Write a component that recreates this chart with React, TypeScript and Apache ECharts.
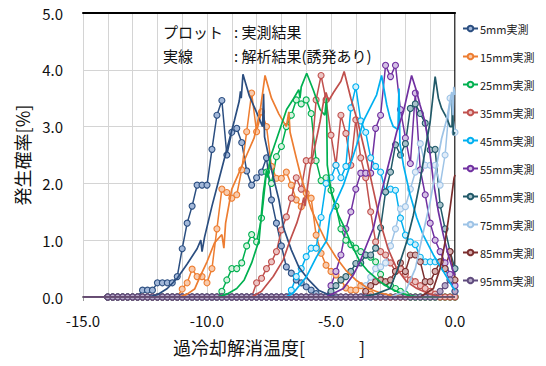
import React, { useEffect, useRef } from "react";
import * as echarts from "echarts";

const temps = [
  -14.0, -13.8, -13.6, -13.4, -13.2, -13.0, -12.8, -12.6, -12.4, -12.2,
  -12.0, -11.8, -11.6, -11.4, -11.2, -11.0, -10.8, -10.6, -10.4, -10.2,
  -10.0, -9.8, -9.6, -9.4, -9.2, -9.0, -8.8, -8.6, -8.4, -8.2,
  -8.0, -7.8, -7.6, -7.4, -7.2, -7.0, -6.8, -6.6, -6.4, -6.2,
  -6.0, -5.8, -5.6, -5.4, -5.2, -5.0, -4.8, -4.6, -4.4, -4.2,
  -4.0, -3.8, -3.6, -3.4, -3.2, -3.0, -2.8, -2.6, -2.4, -2.2,
  -2.0, -1.8, -1.6, -1.4, -1.2, -1.0, -0.8, -0.6, -0.4, -0.2,
  0.0,
];

const seriesNames = ["5mm実測", "15mm実測", "25mm実測", "35mm実測", "45mm実測", "55mm実測", "65mm実測", "75mm実測", "85mm実測", "95mm実測"];

const m5 = [
  0, 0, 0, 0, 0, 0, 0, 0.12, 0.12, 0.12,
  0.25, 0.25, 0.25, 0.25, 0.36, 0.85, 1.3, 1.6, 1.97, 1.97,
  1.97, 2.6, 3.2, 3.46, 2.5, 2.9, 2.97, 2.72, 2.22, 1.97,
  2.1, 2.2, 2.45, 1.71, 1.3, 0.9, 0.53, 0.42, 0.3, 0.25,
  0.18, 0.12, 0.06, 0, 0, 0, 0, 0, 0, 0,
  0, 0, 0, 0, 0, 0, 0, 0, 0, 0,
  0, 0, 0, 0, 0, 0, 0, 0, 0, 0,
  0,
];
const m15 = [
  0, 0, 0, 0, 0, 0, 0, 0, 0, 0,
  0, 0, 0, 0, 0, 0.14, 0.25, 0.49, 0.36, 0.36,
  0.25, 0.5, 1.2, 1.9, 1.84, 1.74, 1.8, 2.24, 2.91, 3.59,
  2.91, 3.26, 3.0, 2.3, 2.09, 2.09, 2.2, 1.97, 1.71, 1.59,
  1.83, 1.74, 1.09, 0.77, 0.56, 0.45, 0.39, 0.3, 0.16, 0.12,
  0.12, 0.2, 0.1, 0.05, 0, 0, 0, 0, 0, 0,
  0, 0, 0, 0, 0, 0, 0, 0, 0, 0,
  0,
];
const m25 = [
  0, 0, 0, 0, 0, 0, 0, 0, 0, 0,
  0, 0, 0, 0, 0, 0, 0, 0, 0, 0,
  0, 0, 0, 0.1, 0.3, 0.5, 0.5, 0.6, 0.9, 1.1,
  0.97, 1.39, 2.2, 2.0, 2.47, 2.65, 3.0, 3.2, 3.47, 3.4,
  3.47, 3.23, 2.4, 2.05, 2.1, 1.88, 1.6, 1.2, 1.0, 0.92,
  0.86, 0.8, 0.74, 0.7, 0.62, 0.4, 0.25, 0.2, 0.15, 0.1,
  0.05, 0, 0, 0, 0, 0, 0, 0, 0, 0,
  0,
];
const m35 = [
  0, 0, 0, 0, 0, 0, 0, 0, 0, 0,
  0, 0, 0, 0, 0, 0, 0, 0, 0, 0,
  0, 0, 0, 0, 0, 0, 0, 0, 0, 0,
  0.25, 0.33, 0.5, 0.62, 0.8, 1.18, 1.41, 1.74, 2.1, 1.9,
  2.4, 2.4, 3.47, 3.9, 3.47, 2.85, 2.32, 3.2, 2.88, 2.32,
  3.12, 2.45, 2.1, 1.5, 0.97, 0.8, 0.74, 0.6, 0.45, 0.5,
  0.4, 0.3, 0.27, 0.2, 0.15, 0.1, 0.05, 0, 0, 0,
  0,
];
const m45 = [
  0, 0, 0, 0, 0, 0, 0, 0, 0, 0,
  0, 0, 0, 0, 0, 0, 0, 0, 0, 0,
  0, 0, 0, 0, 0, 0, 0, 0, 0, 0,
  0, 0, 0, 0, 0, 0, 0, 0.12, 0.36, 0.5,
  0.71, 0.86, 0.86, 1.4, 2.0, 2.1, 2.32, 2.1, 2.3, 3.33,
  3.7, 3.1, 2.9, 2.45, 2.3, 2.2, 1.85, 1.9, 1.88, 1.39,
  1.09, 0.97, 0.92, 0.7, 0.62, 0.62, 0.62, 0.62, 0.5, 0.3,
  0.1,
];
const m55 = [
  0, 0, 0, 0, 0, 0, 0, 0, 0, 0,
  0, 0, 0, 0, 0, 0, 0, 0, 0, 0,
  0, 0, 0, 0, 0, 0, 0, 0, 0, 0,
  0, 0, 0, 0, 0, 0, 0, 0, 0, 0,
  0, 0, 0, 0, 0, 0.2, 0.45, 0.74, 1.2, 1.5,
  1.9, 2.18, 2.18, 2.18, 2.97, 3.2, 4.08, 3.88, 4.08, 3.3,
  2.8, 2.35, 3.59, 2.24, 1.8, 1.3, 1.0, 0.8, 0.6, 0.4,
  0.2,
];
const m65 = [
  0, 0, 0, 0, 0, 0, 0, 0, 0, 0,
  0, 0, 0, 0, 0, 0, 0, 0, 0, 0,
  0, 0, 0, 0, 0, 0, 0, 0, 0, 0,
  0, 0, 0, 0, 0, 0, 0, 0, 0, 0,
  0, 0, 0, 0, 0, 0.1, 0.2, 0.3, 0.36, 0.45,
  0.59, 0.6, 0.74, 0.74, 0.86, 1.22, 1.85, 2.2, 2.68, 2.5,
  2.7, 3.32, 3.4, 3.23, 3.06, 2.59, 2.6, 1.62, 1.2, 0.8,
  0.5,
];
const m75 = [
  0, 0, 0, 0, 0, 0, 0, 0, 0, 0,
  0, 0, 0, 0, 0, 0, 0, 0, 0, 0,
  0, 0, 0, 0, 0, 0, 0, 0, 0, 0,
  0, 0, 0, 0, 0, 0, 0, 0, 0, 0,
  0, 0, 0, 0, 0, 0, 0, 0, 0, 0,
  0, 0, 0.2, 0.35, 0.5, 0.53, 0.6, 0.9, 1.2, 1.55,
  1.59, 1.9, 2.2, 2.7, 2.32, 2.32, 2.32, 1.97, 2.5, 3.5,
  2.9,
];
const m85 = [
  0, 0, 0, 0, 0, 0, 0, 0, 0, 0,
  0, 0, 0, 0, 0, 0, 0, 0, 0, 0,
  0, 0, 0, 0, 0, 0, 0, 0, 0, 0,
  0, 0, 0, 0, 0, 0, 0, 0, 0, 0,
  0, 0, 0, 0, 0, 0, 0, 0, 0, 0,
  0, 0, 0.1, 0.2, 0.27, 0.3, 0.27, 0.3, 0.45, 0.6,
  0.45, 0.74, 0.74, 0.62, 0.27, 0.27, 0.45, 0.62, 0.5, 0.8,
  0.3,
];
const m95 = [
  0, 0, 0, 0, 0, 0, 0, 0, 0, 0,
  0, 0, 0, 0, 0, 0, 0, 0, 0, 0,
  0, 0, 0, 0, 0, 0, 0, 0, 0, 0,
  0, 0, 0, 0, 0, 0, 0, 0, 0, 0,
  0, 0, 0, 0, 0, 0, 0, 0, 0, 0,
  0, 0, 0, 0, 0, 0, 0, 0, 0, 0,
  0, 0, 0, 0, 0, 0, 0, 0.1, 0.2, 0.3,
  0.1,
];

// analytical curves: [temperature, probability]
const a5 = [[-15, 0], [-12.4, 0], [-12.0, 0.04], [-11.6, 0.15], [-11.2, 0.33], [-10.8, 0.58], [-10.4, 0.85], [-10.25, 1.0], [-10.2, 0.8], [-10.1, 1.05], [-9.8, 1.6], [-9.5, 2.1], [-9.2, 2.6], [-8.9, 3.1], [-8.7, 3.45], [-8.65, 3.62], [-8.62, 3.5], [-8.55, 3.92], [-8.3, 3.55], [-8.0, 3.25], [-7.76, 3.0], [-7.72, 3.58], [-7.68, 2.82], [-7.4, 2.24], [-7.1, 1.71], [-6.9, 1.2], [-6.6, 0.83], [-6.3, 0.53], [-5.9, 0.3], [-5.5, 0.12], [-5.0, 0.02], [-4.6, 0], [0, 0]];
const a15 = [[-15, 0], [-11.1, 0], [-10.8, 0.05], [-10.5, 0.14], [-10.28, 0.36], [-10.0, 0.62], [-9.7, 0.95], [-9.4, 1.1], [-9.32, 0.86], [-9.25, 1.3], [-9.0, 1.9], [-8.7, 2.2], [-8.4, 2.5], [-8.1, 2.8], [-7.85, 3.3], [-7.66, 3.9], [-7.4, 3.5], [-7.1, 3.22], [-6.8, 3.0], [-6.7, 3.26], [-6.65, 2.9], [-6.4, 2.45], [-6.2, 2.1], [-6.0, 1.83], [-5.8, 1.55], [-5.5, 1.25], [-5.2, 0.98], [-4.8, 0.7], [-4.4, 0.47], [-4.0, 0.3], [-3.5, 0.15], [-3.0, 0.07], [-2.5, 0.02], [-2.0, 0], [0, 0]];
const a25 = [[-15, 0], [-9.6, 0], [-9.2, 0.05], [-8.8, 0.15], [-8.5, 0.3], [-8.2, 0.6], [-7.9, 1.0], [-7.73, 1.83], [-7.6, 2.24], [-7.55, 2.1], [-7.46, 2.44], [-7.1, 2.9], [-6.79, 3.3], [-6.5, 3.5], [-6.3, 3.65], [-6.25, 3.5], [-6.2, 3.7], [-5.98, 3.94], [-5.71, 3.64], [-5.44, 3.3], [-5.25, 3.2], [-5.18, 3.5], [-5.15, 2.32], [-4.97, 1.8], [-4.7, 1.44], [-4.44, 1.21], [-4.17, 0.92], [-3.83, 0.62], [-3.5, 0.45], [-3.02, 0.27], [-2.6, 0.15], [-2.2, 0.07], [-1.8, 0.02], [-1.4, 0], [0, 0]];
const a35 = [[-15, 0], [-8.2, 0], [-7.8, 0.1], [-7.33, 0.36], [-6.93, 0.65], [-6.65, 1.0], [-6.38, 1.3], [-6.18, 1.59], [-6.1, 1.75], [-6.05, 1.6], [-5.85, 2.24], [-5.65, 2.65], [-5.44, 3.09], [-5.3, 3.44], [-5.2, 3.6], [-5.1, 3.45], [-4.9, 3.6], [-4.6, 3.8], [-4.47, 3.97], [-4.2, 3.5], [-3.9, 3.05], [-3.6, 2.5], [-3.3, 1.9], [-3.0, 1.3], [-2.7, 0.85], [-2.35, 0.5], [-1.95, 0.27], [-1.54, 0.15], [-1.0, 0.05], [-0.5, 0], [0, 0]];
const a45 = [[-15, 0], [-6.8, 0], [-6.52, 0.07], [-6.0, 0.35], [-5.58, 0.71], [-5.17, 1.0], [-5.04, 1.44], [-4.5, 1.97], [-4.23, 2.32], [-3.96, 2.68], [-3.7, 3.09], [-3.16, 3.56], [-2.96, 3.9], [-2.75, 3.38], [-2.62, 3.15], [-2.49, 3.0], [-2.3, 2.95], [-2.26, 3.67], [-2.22, 2.7], [-2.08, 2.32], [-1.81, 1.8], [-1.54, 1.39], [-1.28, 1.09], [-0.87, 0.74], [-0.47, 0.45], [-0.13, 0.2], [0, 0.12]];
const a55 = [[-15, 0], [-5.2, 0], [-4.5, 0.15], [-4.1, 0.39], [-3.83, 0.62], [-3.56, 0.92], [-3.29, 1.21], [-3.02, 1.74], [-2.82, 2.09], [-2.35, 2.91], [-2.08, 3.26], [-1.75, 3.9], [-1.54, 3.61], [-1.41, 3.38], [-1.21, 3.09], [-1.0, 2.5], [-0.87, 2.03], [-0.67, 1.5], [-0.47, 1.09], [-0.27, 0.74], [-0.07, 0.45], [0, 0.38]];
const a65 = [[-15, 0], [-3.8, 0], [-3.2, 0.05], [-2.62, 0.15], [-2.3, 0.5], [-1.95, 0.97], [-1.68, 1.44], [-1.41, 2.03], [-1.2, 2.6], [-1.0, 3.09], [-0.8, 3.88], [-0.67, 3.5], [-0.54, 3.32], [-0.33, 3.15], [-0.2, 3.0], [-0.12, 3.0], [-0.1, 3.56], [-0.07, 2.85], [0, 2.9]];
const a75 = [[-15, 0], [-2.6, 0], [-2.0, 0.1], [-1.6, 0.5], [-1.3, 1.1], [-1.0, 1.68], [-0.74, 2.32], [-0.54, 2.79], [-0.35, 3.1], [-0.13, 3.61], [-0.08, 3.2], [-0.05, 3.7], [0, 3.56]];
const a85 = [[-15, 0], [-1.4, 0], [-0.87, 0.15], [-0.6, 0.5], [-0.4, 0.97], [-0.2, 1.56], [-0.04, 2.09], [0, 2.15]];
const a95 = [[-15, 0], [0, 0]];

const measured = [m5, m15, m25, m35, m45, m55, m65, m75, m85, m95];
const analytical = [a5, a15, a25, a35, a45, a55, a65, a75, a85, a95];
const lineColors = ["#2B4E80", "#ED7D31", "#00B050", "#C0504D", "#00B0F0", "#7030A0", "#215968", "#9DC3E6", "#7B2E2E", "#5F4B7D"];
const fillColors = ["#A3B8D9", "#F8CBAD", "#D8F1E0", "#EBC4C3", "#D2F0FB", "#D4C1E4", "#A9C3CB", "#E1ECF8", "#D7B1B1", "#B9ADCB"];

const FONT = "'Noto Sans CJK JP', 'Noto Sans', sans-serif";

export default function App() {
  const ref = useRef<HTMLDivElement>(null);
  useEffect(() => {
    if (!ref.current) return;
    const chart = echarts.init(ref.current, null, { renderer: "svg" });
    const series: any[] = [];
    measured.forEach((vals, k) => {
      series.push({
        name: seriesNames[k],
        type: "line",
        data: temps.map((t, i) => [t, vals[i]]),
        symbol: "circle",
        symbolSize: 6,
        showSymbol: true,
        showAllSymbol: true,
        lineStyle: { color: lineColors[k], width: 1.5 },
        itemStyle: { color: fillColors[k], borderColor: lineColors[k], borderWidth: 1.1 },
        z: 2,
      });
    });
    analytical.forEach((pts, k) => {
      series.push({
        name: "解析" + k,
        type: "line",
        data: pts,
        showSymbol: false,
        symbol: "none",
        lineStyle: { color: lineColors[k], width: 1.7 },
        itemStyle: { color: lineColors[k] },
        z: 3,
      });
    });
    chart.setOption({
      animation: false,
      textStyle: { fontFamily: FONT },
      grid: { left: 83, right: 91, top: 13, bottom: 69, containLabel: false },
      legend: {
        data: seriesNames,
        orient: "vertical",
        left: 457,
        top: 17,
        itemWidth: 15,
        itemHeight: 7,
        itemGap: 15,
        textStyle: { fontSize: 11, color: "#222", fontFamily: FONT, lineHeight: 13, padding: [0, 0, 0, -3] },
      },
      xAxis: [
        {
          type: "value",
          min: -15,
          max: 0,
          interval: 5,
          axisLine: { show: true, onZero: false, lineStyle: { color: "#000", width: 1.5 } },
          axisTick: { show: true, length: 4, lineStyle: { color: "#999" } },
          axisLabel: { fontSize: 15, color: "#111", margin: 16, formatter: (v: number) => v.toFixed(1), fontFamily: FONT },
          splitLine: { show: true, lineStyle: { color: "#d4d4d4", width: 1 } },
          minorTick: { show: false, splitNumber: 5 },
          minorSplitLine: { show: true, lineStyle: { color: "#d4d4d4", width: 1 } },
          name: "過冷却解消温度[　　　]",
          nameLocation: "middle",
          nameGap: 41,
          nameTextStyle: { fontSize: 18, color: "#111", fontFamily: FONT },
        },
        {
          type: "value",
          position: "top",
          min: -15,
          max: 0,
          axisLine: { show: true, onZero: false, lineStyle: { color: "#000", width: 2 } },
          axisTick: { show: false },
          axisLabel: { show: false },
          splitLine: { show: false },
        },
      ],
      yAxis: [
        {
          type: "value",
          min: 0,
          max: 5,
          interval: 1,
          axisLine: { show: true, lineStyle: { color: "#000", width: 1.5 } },
          axisTick: { show: false },
          axisLabel: { fontSize: 15, color: "#111", margin: 20, formatter: (v: number) => v.toFixed(1), fontFamily: FONT },
          splitLine: { show: true, lineStyle: { color: "#d4d4d4", width: 1 } },
          name: "発生確率[%]",
          nameLocation: "middle",
          nameGap: 52,
          nameTextStyle: { fontSize: 18, color: "#111", fontFamily: FONT },
        },
        {
          type: "value",
          position: "right",
          min: 0,
          max: 5,
          axisLine: { show: true, lineStyle: { color: "#a6a6a6", width: 1 } },
          axisTick: { show: false },
          axisLabel: { show: false },
          splitLine: { show: false },
        },
      ],
      graphic: [
        { type: "text", left: 163, top: 24, z: 10, style: { text: "プロット", fontSize: 15, fill: "#111", fontFamily: FONT } },
        { type: "text", left: 234, top: 24, z: 10, style: { text: ": 実測結果", fontSize: 15, fill: "#111", fontFamily: FONT } },
        { type: "text", left: 163, top: 48, z: 10, style: { text: "実線", fontSize: 15, fill: "#111", fontFamily: FONT } },
        { type: "text", left: 234, top: 48, z: 10, style: { text: ": 解析結果(誘発あり)", fontSize: 15, fill: "#111", fontFamily: FONT } },
      ],
      series,
    });
    return () => chart.dispose();
  }, []);
  return <div ref={ref} style={{ width: 546, height: 366, margin: -8 }} />;
}
